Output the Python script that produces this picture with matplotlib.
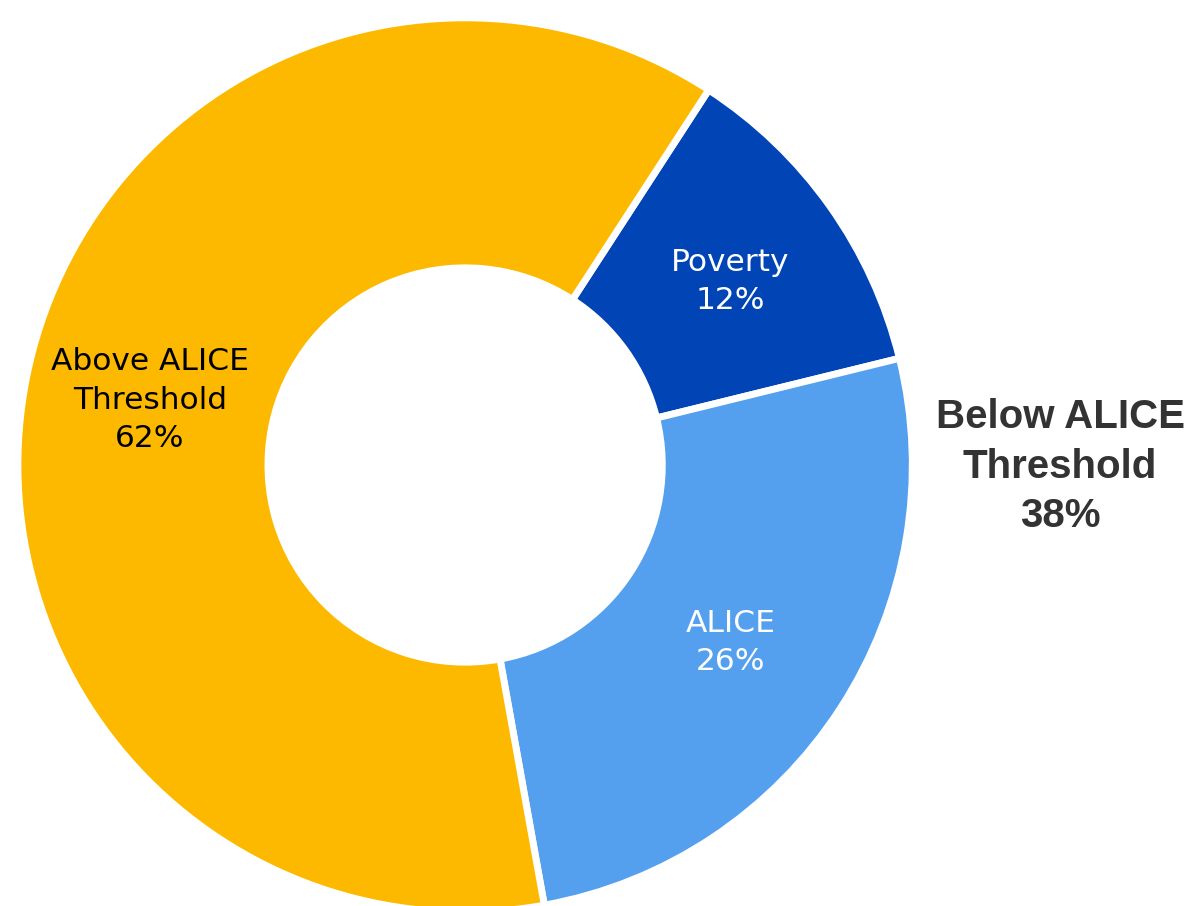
import matplotlib.pyplot as plt

labels = ['Poverty', 'ALICE', 'Above ALICE\nThreshold']
values = [12, 26, 62]
colors = ['#0044B5', '#54A0EE', '#FDB900']
text_colors = ['white', 'white', 'black']

below_label = 'Below ALICE\nThreshold\n38%'

fig = plt.figure(figsize=(11.91, 9.06), dpi=100)
ax = fig.add_axes([0, 0, 1, 1])

wedges, texts = ax.pie(values, colors=colors, startangle=57, counterclock=False,
                       radius=1.005, wedgeprops=dict(width=0.562, edgecolor='white', linewidth=5))

# label positions inside the ring
label_pos = [(0.596, 0.413), (0.596, -0.398), (-0.708, 0.146)]
for lab, val, (x, y), c in zip(labels, values, label_pos, text_colors):
    ax.text(x, y, '%s\n%d%%' % (lab, val), ha='center', va='center', color=c,
            fontsize=22.5, family='DejaVu Sans', linespacing=1.4)

ax.text(1.337, -0.004, below_label, ha='center', va='center', color='#333333',
        fontsize=29, fontweight='bold', family='Liberation Sans', linespacing=1.38)

ax.set_xlim(-1.045, 1.631)
ax.set_ylim(-0.991, 1.045)
ax.set_aspect('equal')
ax.axis('off')

fig.savefig('out.png', dpi=100)
